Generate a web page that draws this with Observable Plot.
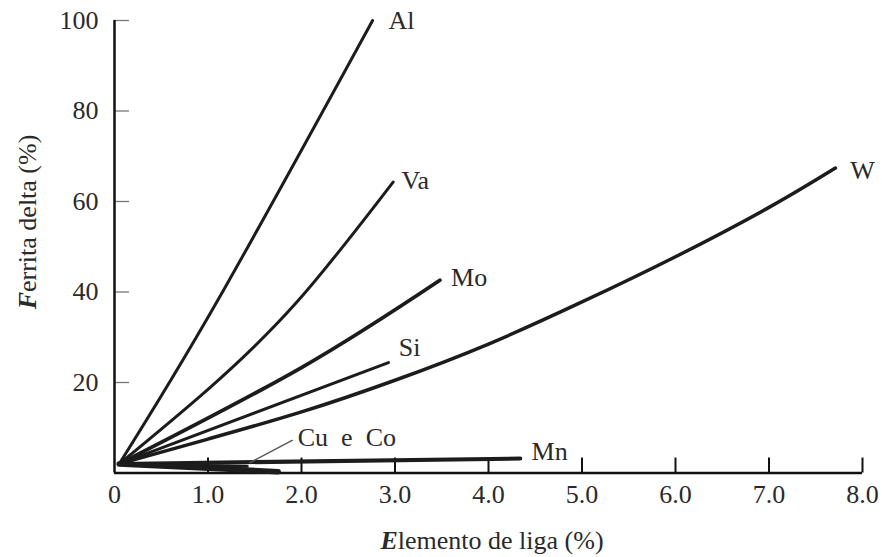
<!DOCTYPE html>
<html><head><meta charset="utf-8">
<script src="https://cdn.jsdelivr.net/npm/d3@7"></script>
<script src="https://cdn.jsdelivr.net/npm/@observablehq/plot@0.6"></script>
<style>body{margin:0;background:#fff}</style>
</head><body><div id="chart"></div>
<script>
// Series (x = elemento de liga %, y = ferrita delta %)
const alX = [0.05, 1.1, 2.76];
const alY = [2, 38, 100];
const vaX = [0.05, 1.0, 1.96, 2.98];
const vaY = [2, 18.5, 38, 64.3];
const moX = [0.05, 2.0, 3.48];
const moY = [2, 23.3, 42.6];
const siX = [0.05, 2.93];
const siY = [2, 24.4];
const wX = [0.05, 1, 2, 3, 4, 5, 6, 7, 7.71];
const wY = [2, 7.5, 13.5, 20.5, 28.5, 37.8, 47.8, 58.7, 67.4];
const mnX = [0.05, 4.34];
const mnY = [2, 3.2];
const cuX = [0.05, 1.75];
const cuY = [2, 0.3];
const coX = [0.05, 1.42];
const coY = [2, 1.5];

// Labels
const labelText = ["Al", "Va", "Mo", "Si", "W", "Mn", "Cu\u2002e\u2002Co"];
const labelX = [2.93, 3.07, 3.60, 3.04, 7.87, 4.46, 1.96];
const labelY = [100, 64.7, 43.2, 27.8, 66.9, 4.8, 7.9];
const leaderX = [1.45, 1.90];
const leaderY = [2.3, 7.2];

// Ticks
const xTicks = [0, 1, 2, 3, 4, 5, 6, 7, 8];
const xTickLabels = ["0", "1.0", "2.0", "3.0", "4.0", "5.0", "6.0", "7.0", "8.0"];
const yTicks = [20, 40, 60, 80, 100];

const pts = (xs, ys) => xs.map((x, i) => ({x, y: ys[i]}));
const ink = "#1c1c1c";
const lineMark = (xs, ys, w) => Plot.line(pts(xs, ys), {x: "x", y: "y", stroke: ink, strokeWidth: w, curve: "natural", strokeLinecap: "round"});
const labels = labelText.map((t, i) => ({t, x: labelX[i], y: labelY[i]}));

const svg = Plot.plot({
  width: 882, height: 557,
  marginLeft: 114, marginRight: 20, marginTop: 20, marginBottom: 84.5,
  x: {domain: [0, 8]},
  y: {domain: [0, 100]},
  style: {fontFamily: "'Liberation Serif', 'DejaVu Serif', serif", fontSize: "26px", color: "#2a2a2a", background: "#fff"},
  marks: [
    Plot.ruleY(yTicks, {y: d => d, x1: 0, x2: 0.16, stroke: "#777", strokeWidth: 1.3}),
    Plot.ruleX(xTicks.slice(1), {x: d => d, y1: 0, y2: 3.3, stroke: "#111", strokeWidth: 2}),
    Plot.ruleX([0], {stroke: "#111", strokeWidth: 2.5}),
    Plot.ruleY([0], {stroke: "#111", strokeWidth: 2.5}),
    Plot.axisX({ticks: xTicks, tickSize: 0, tickPadding: 12, tickFormat: d => xTickLabels[xTicks.indexOf(d)], label: null, fontSize: 26, fontFamily: "'Liberation Serif', serif"}),
    Plot.axisY({ticks: yTicks, tickSize: 0, tickPadding: 16, label: null, fontSize: 26, fontFamily: "'Liberation Serif', serif"}),
    lineMark(alX, alY, 3),
    lineMark(vaX, vaY, 3),
    lineMark(moX, moY, 3.8),
    lineMark(siX, siY, 3),
    lineMark(wX, wY, 3.5),
    lineMark(mnX, mnY, 4),
    lineMark(cuX, cuY, 5.5),
    lineMark(coX, coY, 3),
    Plot.line(pts(leaderX, leaderY), {x: "x", y: "y", stroke: "#555", strokeWidth: 1.5}),
    Plot.text(labels, {x: "x", y: "y", text: "t", textAnchor: "start", fill: "#2a2a2a", fontSize: 26})
  ]
});

const s = d3.select(svg);
const xt = s.append("text").attr("x", 492).attr("y", 549).attr("text-anchor", "middle")
  .attr("fill", "#2a2a2a").attr("font-size", 26);
xt.append("tspan").attr("font-weight", "bold").attr("font-style", "italic").text("E");
xt.append("tspan").text("lemento de liga (%)");
const yt = s.append("text").attr("transform", "translate(36,222) rotate(-90)").attr("text-anchor", "middle")
  .attr("fill", "#2a2a2a").attr("font-size", 26);
yt.append("tspan").attr("font-weight", "bold").attr("font-style", "italic").text("F");
yt.append("tspan").text("errita delta (%)");

document.getElementById("chart").appendChild(svg);
</script>
</body></html>
